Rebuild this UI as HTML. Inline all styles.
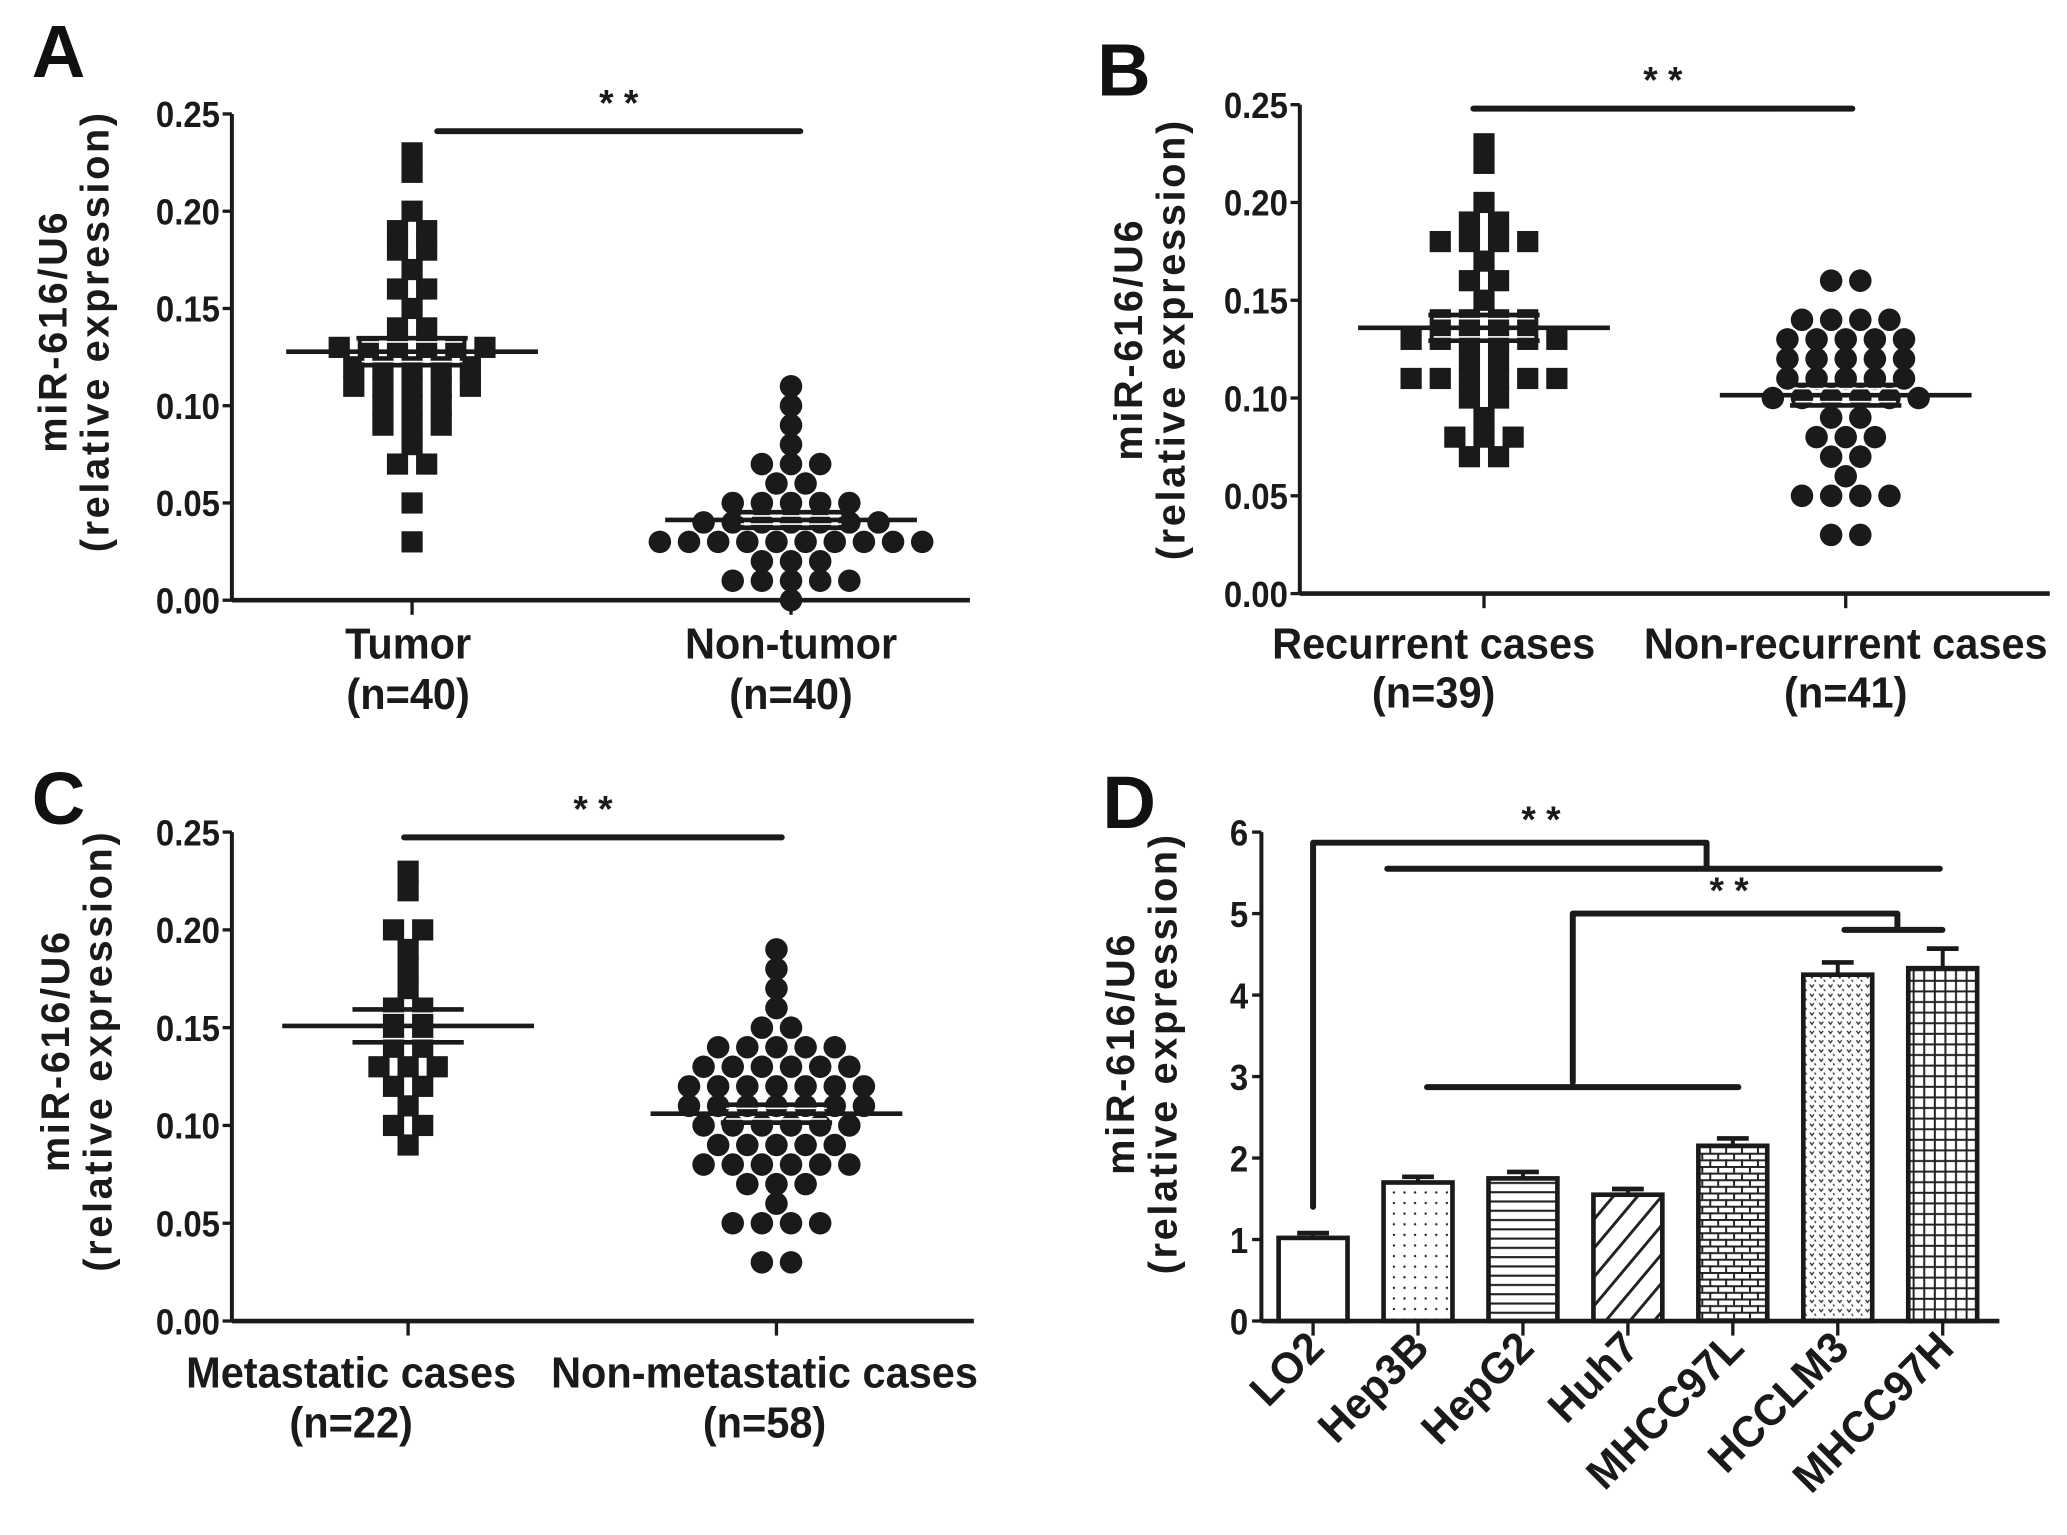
<!DOCTYPE html>
<html><head><meta charset="utf-8"><style>
html,body{margin:0;padding:0;background:#fff;}
svg{display:block;}
.tk{font-family:"Liberation Sans",sans-serif;font-weight:bold;font-size:27px;fill:#1a1a1a;}
.cat{font-family:"Liberation Sans",sans-serif;font-weight:bold;font-size:33px;fill:#1a1a1a;}
.yl{font-family:"Liberation Sans",sans-serif;font-weight:bold;font-size:30px;letter-spacing:2px;fill:#1a1a1a;}
.let{font-family:"Liberation Sans",sans-serif;font-weight:bold;font-size:56px;fill:#111;}
.st{font-family:"Liberation Sans",sans-serif;font-weight:bold;font-size:28px;fill:#1a1a1a;}
</style></head><body>
<svg id="fig" width="2067" height="1535" viewBox="0 0 1560 1158.5" xmlns="http://www.w3.org/2000/svg">
<defs>
<pattern id="pDots" width="8" height="8" patternUnits="userSpaceOnUse"><rect width="8" height="8" fill="#fff"/><circle cx="4" cy="4" r="0.9" fill="#222"/></pattern>
<pattern id="pHor" width="8" height="7" patternUnits="userSpaceOnUse"><rect width="8" height="7" fill="#fff"/><rect y="3" width="8" height="1.6" fill="#222"/></pattern>
<pattern id="pDiag" width="14" height="14" patternUnits="userSpaceOnUse" patternTransform="rotate(40)"><rect width="14" height="14" fill="#fff"/><rect x="0" width="2.2" height="14" fill="#222"/></pattern>
<pattern id="pBrick" width="12" height="10" patternUnits="userSpaceOnUse"><rect width="12" height="10" fill="#fff"/><rect y="0" width="12" height="1.5" fill="#222"/><rect y="5" width="12" height="1.5" fill="#222"/><rect x="0" y="0" width="1.5" height="5" fill="#222"/><rect x="6" y="5" width="1.5" height="5" fill="#222"/></pattern>
<pattern id="pSpark" width="7" height="7" patternUnits="userSpaceOnUse"><rect width="7" height="7" fill="#fff"/><path d="M1 1 L2.5 3 L4 1 M4.5 4.5 L5.5 6" stroke="#333" stroke-width="1" fill="none"/></pattern>
<pattern id="pGrid" width="8" height="8" patternUnits="userSpaceOnUse"><rect width="8" height="8" fill="#fff"/><rect x="3.5" width="1.5" height="8" fill="#222"/><rect y="3.5" width="8" height="1.5" fill="#222"/></pattern>
</defs>
</svg>
<script>
// ---------- data ----------
const aCats = ["Tumor","Non-tumor"];
const aNs = ["(n=40)","(n=40)"];
const aTumor = [0.23,0.22,0.20,0.19,0.19,0.18,0.18,0.17,0.16,0.16,0.15,0.14,0.14,0.13,0.13,0.13,0.13,0.13,0.13,0.12,0.12,0.12,0.12,0.12,0.11,0.11,0.11,0.11,0.11,0.10,0.10,0.10,0.09,0.09,0.09,0.08,0.07,0.07,0.05,0.03];
const aNon = [0.11,0.10,0.09,0.08,0.07,0.07,0.07,0.06,0.06,0.05,0.05,0.05,0.05,0.05,0.04,0.04,0.04,0.04,0.04,0.04,0.04,0.03,0.03,0.03,0.03,0.03,0.03,0.03,0.03,0.03,0.03,0.02,0.02,0.02,0.01,0.01,0.01,0.01,0.01,0.00];
const bCats = ["Recurrent cases","Non-recurrent cases"];
const bNs = ["(n=39)","(n=41)"];
const bRec = [0.23,0.22,0.20,0.19,0.19,0.18,0.18,0.18,0.18,0.17,0.16,0.16,0.15,0.14,0.14,0.14,0.14,0.13,0.13,0.13,0.13,0.13,0.13,0.12,0.12,0.11,0.11,0.11,0.11,0.11,0.11,0.10,0.10,0.09,0.08,0.08,0.08,0.07,0.07];
const bNon = [0.16,0.16,0.14,0.14,0.14,0.14,0.13,0.13,0.13,0.13,0.13,0.12,0.12,0.12,0.12,0.12,0.11,0.11,0.11,0.11,0.11,0.10,0.10,0.10,0.10,0.10,0.09,0.09,0.08,0.08,0.08,0.07,0.07,0.06,0.05,0.05,0.05,0.05,0.03,0.03,0.10];
const cCats = ["Metastatic cases","Non-metastatic cases"];
const cNs = ["(n=22)","(n=58)"];
const cMet = [0.23,0.22,0.20,0.20,0.19,0.18,0.17,0.16,0.16,0.15,0.15,0.14,0.14,0.13,0.13,0.13,0.12,0.12,0.11,0.10,0.10,0.09];
const cNon = [0.19,0.18,0.17,0.16,0.15,0.15,0.14,0.14,0.14,0.14,0.14,0.13,0.13,0.13,0.13,0.13,0.13,0.12,0.12,0.12,0.12,0.12,0.12,0.12,0.11,0.11,0.11,0.11,0.11,0.11,0.11,0.10,0.10,0.10,0.10,0.10,0.10,0.09,0.09,0.09,0.09,0.09,0.08,0.08,0.08,0.08,0.08,0.08,0.07,0.07,0.07,0.06,0.05,0.05,0.05,0.05,0.03,0.03];
const scatterTicks = ["0.00","0.05","0.10","0.15","0.20","0.25"];
const dCats = ["LO2","Hep3B","HepG2","Huh7","MHCC97L","HCCLM3","MHCC97H"];
const dVals = [1.02,1.70,1.75,1.55,2.15,4.25,4.33];
const dErr = [0.06,0.07,0.08,0.07,0.09,0.15,0.24];
const dTicks = ["0","1","2","3","4","5","6"];
const dFills = ["#fff","url(#pDots)","url(#pHor)","url(#pDiag)","url(#pBrick)","url(#pSpark)","url(#pGrid)"];

const NS="http://www.w3.org/2000/svg";
const svg=document.getElementById('fig');
function mk(tag,attrs,parent){const e=document.createElementNS(NS,tag);for(const k in attrs)e.setAttribute(k,attrs[k]);(parent||svg).appendChild(e);return e;}
function txt(s,attrs,parent){const e=mk('text',attrs,parent);e.textContent=s;return e;}
function ctxt(s,x,y,anchor,cls,parent,sx){const t=txt(s,{transform:`translate(${x},${y}) scale(${sx||0.95},1)`,'text-anchor':anchor,class:cls},parent);return t;}

function scatterPanel(o){
  const g=mk('g',{});
  
  
  const y=v=>o.y0-(v/0.25)*(o.y0-o.y1);
  const ya=mk('line',{x1:o.ax,y1:o.y1,x2:o.ax,y2:o.y0,stroke:'#1a1a1a','stroke-width':3},g);
  
  const xa=mk('line',{x1:o.ax,y1:o.y0,x2:o.xend,y2:o.y0,stroke:'#1a1a1a','stroke-width':3.5},g);
  
  scatterTicks.forEach(t=>{const v=parseFloat(t);const yy=y(v);
    mk('line',{x1:o.ax-7,y1:yy,x2:o.ax,y2:yy,stroke:'#1a1a1a','stroke-width':2.5},g);
    const tl=ctxt(t,o.ax-9,yy+10,'end','tk',g,0.92);
    
  });
  const groups=[o.d1,o.d2];
  groups.forEach((d,gi)=>{
    const cx=o.cx[gi];
    mk('line',{x1:cx,y1:o.y0,x2:cx,y2:o.y0+11,stroke:'#1a1a1a','stroke-width':2.5},g);
    const cl=ctxt(o.cats[gi],o.lxs[gi],o.y0+o.off[0],'middle','cat',g);
    
    const nl=ctxt(o.ns[gi],o.lxs[gi],o.y0+o.off[1],'middle','cat',g);
    
    const rows={};d.forEach(v=>{const k=v.toFixed(3);(rows[k]=rows[k]||[]).push(v);});
    for(const k in rows){const n=rows[k].length;rows[k].forEach((v,i)=>{
      const px=cx+(i-(n-1)/2)*22, py=y(v);
      let m;
      if(gi===0){m=mk('rect',{x:px-8,y:py-8,width:16,height:16,fill:'#1a1a1a'},g);}
      else{m=mk('circle',{cx:px,cy:py,r:8.5,fill:'#1a1a1a'},g);}
      
    });}
    const mean=d.reduce((a,b)=>a+b,0)/d.length;
    const sd=Math.sqrt(d.reduce((a,b)=>a+(b-mean)*(b-mean),0)/(d.length-1));
    const sem=sd/Math.sqrt(d.length);
    const ml=mk('line',{x1:cx-o.mw,y1:y(mean),x2:cx+o.mw,y2:y(mean),stroke:'#1a1a1a','stroke-width':3.5},g);
    
    [mean+sem,mean-sem].forEach(v=>{const el=mk('line',{x1:cx-42,y1:y(v),x2:cx+42,y2:y(v),stroke:'#1a1a1a','stroke-width':3.5},g);
      
      mk('line',{x1:cx-38,y1:y(v)+(v>mean?2.8:-2.8),x2:cx+38,y2:y(v)+(v>mean?2.8:-2.8),stroke:'#fff','stroke-width':1.2},g);});
  });
  const sb=mk('line',{x1:o.sig[0],y1:o.sig[2],x2:o.sig[1],y2:o.sig[2],stroke:'#1a1a1a','stroke-width':4.5,'stroke-linecap':'round'},g);
  
  const ss=txt('* *',{x:(o.sig[0]+o.sig[1])/2,y:o.sig[2]-12,'text-anchor':'middle',class:'st'},g);
  
  const yt=txt('',{transform:`translate(${o.ylx},${o.yly}) rotate(-90)`,'text-anchor':'middle',class:'yl'},g);
  
  const t1=mk('tspan',{x:0,y:0},yt);t1.textContent='miR-616/U6';
  const t2=mk('tspan',{x:0,y:32},yt);t2.textContent='(relative expression)';
  const pl=txt(o.letter,{x:o.lx,y:o.ly,class:'let'},g);
  
}

scatterPanel({name:'panel-a',letter:'A',lx:24,ly:58,ax:175,xend:732,y0:453,y1:86,cx:[311,597],lxs:[308,597],cats:aCats,ns:aNs,off:[44,82],d1:aTumor,d2:aNon,mw:95,sig:[330,604,99],ylx:50,yly:250});
scatterPanel({name:'panel-b',letter:'B',lx:828,ly:72,ax:981,xend:1547,y0:448,y1:79,cx:[1120,1393],lxs:[1082,1393],cats:bCats,ns:bNs,off:[49,86],d1:bRec,d2:bNon,mw:95,sig:[1112,1398,82],ylx:862,yly:256});
scatterPanel({name:'panel-c',letter:'C',lx:24,ly:622,ax:175,xend:735,y0:997,y1:628,cx:[308,586],lxs:[265,577],cats:cCats,ns:cNs,off:[50,88],d1:cMet,d2:cNon,mw:95,sig:[305,590,632],ylx:52,yly:793});

// ---------- panel D ----------
(function(){
  const g=mk('g',{});
  
  const ax=952,y0=997,y6=628,xend=1509,x0=991,step=79.2,bw=52;
  const y=v=>y0-(v/6)*(y0-y6);
  const xc=i=>x0+i*step;
  dVals.forEach((v,i)=>{
    const b=mk('rect',{x:xc(i)-bw/2,y:y(v),width:bw,height:y0-y(v),fill:dFills[i],stroke:'#1a1a1a','stroke-width':3.5},g);
    
    const e=mk('line',{x1:xc(i),y1:y(v),x2:xc(i),y2:y(v+dErr[i]),stroke:'#1a1a1a','stroke-width':3},g);
    
    mk('line',{x1:xc(i)-12,y1:y(v+dErr[i]),x2:xc(i)+12,y2:y(v+dErr[i]),stroke:'#1a1a1a','stroke-width':3.5},g);
    mk('line',{x1:xc(i),y1:y0,x2:xc(i),y2:y0+11,stroke:'#1a1a1a','stroke-width':2.5},g);
    const l=txt(dCats[i],{transform:`translate(${xc(i)+10},${y0+22}) rotate(-45) scale(0.97,1)`,'text-anchor':'end',class:'cat'},g);
    
  });
  const ya=mk('line',{x1:ax,y1:y6,x2:ax,y2:y0,stroke:'#1a1a1a','stroke-width':3},g);
  
  const xa=mk('line',{x1:ax,y1:y0,x2:xend,y2:y0,stroke:'#1a1a1a','stroke-width':3.5},g);
  
  dTicks.forEach(t=>{const yy=y(+t);
    mk('line',{x1:ax-7,y1:yy,x2:ax,y2:yy,stroke:'#1a1a1a','stroke-width':2.5},g);
    const tl=ctxt(t,ax-10,yy+10,'end','tk',g,0.92);
    });
  const st={stroke:'#1a1a1a','stroke-width':4.5,fill:'none','stroke-linejoin':'round','stroke-linecap':'round'};
  const p1=mk('path',Object.assign({d:`M${xc(0)} ${y(1.4)} V${y(5.87)} H1288 V${y(5.55)}`},st),g);
  
  const p2=mk('path',Object.assign({d:`M1047 ${y(5.55)} H1464`},st),g);
  
  const p3=mk('path',Object.assign({d:`M1077 ${y(2.87)} H1312 M1187 ${y(2.93)} V${y(5.0)} H1432 V${y(4.8)} M1392 ${y(4.8)} H1466`},st),g);
  
  const s1=txt('* *',{x:1163,y:y(5.87)-8,'text-anchor':'middle',class:'st'},g);
  
  const s2=txt('* *',{x:1305,y:y(5.0)-8,'text-anchor':'middle',class:'st'},g);
  
  const yt=txt('',{transform:`translate(856,795) rotate(-90)`,'text-anchor':'middle',class:'yl'},g);
  
  const t1=mk('tspan',{x:0,y:0},yt);t1.textContent='miR-616/U6';
  const t2=mk('tspan',{x:0,y:32},yt);t2.textContent='(relative expression)';
  const pl=txt('D',{x:832,y:625,class:'let'},g);
  
})();
</script>
</body></html>
